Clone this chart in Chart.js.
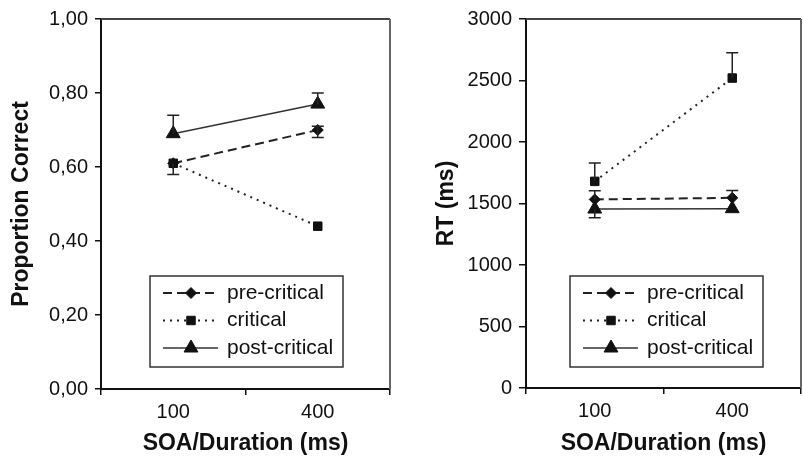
<!DOCTYPE html>
<html>
<head>
<meta charset="utf-8">
<script src="https://cdn.jsdelivr.net/npm/chart.js@4/dist/chart.umd.min.js"></script>
<style>
  html, body { margin: 0; padding: 0; background: #fff; overflow: hidden; }
  #wrap { position: relative; width: 803px; height: 459px; overflow: hidden; }
  #accChart { position: absolute; left: 0; top: 0; }
  #rtChart { position: absolute; left: 420px; top: 0; }
</style>
</head>
<body>
<div id="wrap">
  <canvas id="accChart" width="420" height="459"></canvas>
  <canvas id="rtChart" width="390" height="459"></canvas>
</div>
<script>
// data
const categories = ['100', '400'];
const seriesNames = ['pre-critical', 'critical', 'post-critical'];

// proportion correct
const accPre = [0.61, 0.70];
const accCrit = [0.61, 0.44];
const accPost = [0.69, 0.77];
const accPreErrUp = [0, 0.01];
const accPreErrDown = [0.03, 0.02];
const accCritErrUp = [0, 0];
const accCritErrDown = [0, 0];
const accPostErrUp = [0.05, 0.03];
const accPostErrDown = [0, 0];
const accTickLabels = ['0,00', '0,20', '0,40', '0,60', '0,80', '1,00'];

// reaction times
const rtPre = [1533, 1546];
const rtCrit = [1680, 2520];
const rtPost = [1455, 1458];
const rtPreErrUp = [70, 60];
const rtPreErrDown = [0, 0];
const rtCritErrUp = [150, 205];
const rtCritErrDown = [0, 0];
const rtPostErrUp = [0, 0];
const rtPostErrDown = [70, 0];
const rtTickLabels = ['0', '500', '1000', '1500', '2000', '2500', '3000'];

Chart.defaults.font.family = '"Liberation Sans", Arial, sans-serif';
Chart.defaults.color = '#111';

// error bars (caps + stems)
const errorBars = {
    id: 'errorBars',
    afterDatasetsDraw(chart) {
        const ctx = chart.ctx;
        const yScale = chart.scales.y;
        ctx.save();
        ctx.strokeStyle = '#222';
        ctx.lineWidth = 1.5;
        chart.data.datasets.forEach((ds, i) => {
            const meta = chart.getDatasetMeta(i);
            meta.data.forEach((pt, j) => {
                const v = ds.data[j];
                const ends = [];
                if (ds.errUp && ds.errUp[j] > 0) ends.push(v + ds.errUp[j]);
                if (ds.errDown && ds.errDown[j] > 0) ends.push(v - ds.errDown[j]);
                ends.forEach(e => {
                    const y0 = yScale.getPixelForValue(v);
                    const y1 = yScale.getPixelForValue(e);
                    ctx.beginPath();
                    ctx.moveTo(pt.x, y0);
                    ctx.lineTo(pt.x, y1);
                    ctx.moveTo(pt.x - 6, y1);
                    ctx.lineTo(pt.x + 6, y1);
                    ctx.stroke();
                });
            });
        });
        ctx.restore();
    }
};

// top/right frame of plot area
const areaFrame = {
    id: 'areaFrame',
    afterDraw(chart) {
        const {ctx, chartArea} = chart;
        ctx.save();
        ctx.lineWidth = 2;
        ctx.strokeStyle = '#444';
        ctx.beginPath();
        ctx.moveTo(chartArea.left, chartArea.top);
        ctx.lineTo(chartArea.right, chartArea.top);
        ctx.stroke();
        ctx.strokeStyle = '#666';
        ctx.beginPath();
        ctx.moveTo(chartArea.right, chartArea.top);
        ctx.lineTo(chartArea.right, chartArea.bottom);
        ctx.stroke();
        ctx.restore();
    }
};

// boxed legend with line samples
const boxLegend = {
    id: 'boxLegend',
    afterDraw(chart, args, opts) {
        const ctx = chart.ctx;
        ctx.save();
        ctx.fillStyle = '#fff';
        ctx.fillRect(opts.x, opts.y, opts.w, opts.h);
        ctx.strokeStyle = '#333';
        ctx.lineWidth = 1.5;
        ctx.strokeRect(opts.x, opts.y, opts.w, opts.h);
        chart.data.datasets.forEach((ds, i) => {
            const cy = opts.y + opts.rowTop + i * opts.rowGap;
            ctx.save();
            ctx.setLineDash(ds.borderDash || []);
            ctx.lineWidth = ds.borderWidth;
            ctx.strokeStyle = ds.borderColor;
            ctx.beginPath();
            ctx.moveTo(opts.x + 13, cy);
            ctx.lineTo(opts.x + 68, cy);
            ctx.stroke();
            ctx.restore();
            ctx.fillStyle = '#111';
            ctx.strokeStyle = '#111';
            ctx.lineWidth = 1;
            Chart.helpers.drawPoint(ctx, {
                pointStyle: ds.pointStyle,
                radius: ds.pointRadius,
                borderWidth: 1,
                rotation: 0
            }, opts.x + 41, cy);
            ctx.fillStyle = '#111';
            ctx.font = opts.font;
            ctx.textBaseline = 'middle';
            ctx.textAlign = 'left';
            ctx.fillText(ds.label, opts.x + 77, cy);
        });
        ctx.restore();
    }
};

function makeDatasets(pre, crit, post, errs) {
    return [{
        label: seriesNames[0],
        data: pre,
        errUp: errs[0], errDown: errs[1],
        borderColor: '#222',
        borderWidth: 2,
        borderDash: [9, 5],
        pointStyle: 'rectRot',
        pointRadius: 5.5,
        pointBackgroundColor: '#111',
        pointBorderColor: '#111',
        pointBorderWidth: 1
    }, {
        label: seriesNames[1],
        data: crit,
        errUp: errs[2], errDown: errs[3],
        borderColor: '#222',
        borderWidth: 2,
        borderDash: [2, 5],
        pointStyle: 'rect',
        pointRadius: 6,
        pointBackgroundColor: '#111',
        pointBorderColor: '#111',
        pointBorderWidth: 1
    }, {
        label: seriesNames[2],
        data: post,
        errUp: errs[4], errDown: errs[5],
        borderColor: '#333',
        borderWidth: 1.5,
        pointStyle: 'triangle',
        pointRadius: 8,
        pointBackgroundColor: '#111',
        pointBorderColor: '#111',
        pointBorderWidth: 1
    }];
}

function makeConfig(datasets, y, layout) {
    return {
        type: 'line',
        data: {labels: categories, datasets: datasets},
        plugins: [errorBars, areaFrame, boxLegend],
        options: {
            responsive: false,
            animation: false,
            events: [],
            layout: {padding: layout.padding},
            plugins: {
                legend: {display: false},
                tooltip: {enabled: false},
                boxLegend: {
                    x: 150, y: 276, w: 193, h: 91,
                    rowTop: 17, rowGap: 27.5,
                    font: '21px "Liberation Sans", Arial, sans-serif'
                }
            },
            scales: {
                x: {
                    type: 'category',
                    offset: true,
                    grid: {offset: true, drawOnChartArea: false, tickLength: 6, color: '#111', lineWidth: 1.5},
                    border: {color: '#111', width: 2},
                    ticks: {padding: 5, font: {size: 20}, color: '#111'},
                    title: {
                        display: true,
                        text: 'SOA/Duration (ms)',
                        font: {size: 23, weight: 'bold'},
                        padding: {top: 0, bottom: 2}
                    },
                    afterFit: function (scale) { scale.height = layout.xHeight; }
                },
                y: {
                    min: y.min,
                    max: y.max,
                    grid: {drawOnChartArea: false, tickLength: layout.tickLength, color: '#111', lineWidth: 1.5},
                    border: {color: '#111', width: 2},
                    ticks: {
                        stepSize: y.step,
                        padding: 7,
                        font: {size: 20},
                        color: '#111',
                        callback: function (value, index) { return y.labels[index]; }
                    },
                    title: {
                        display: true,
                        text: y.title,
                        font: {size: 23, weight: 'bold'},
                        padding: {top: layout.titlePad, bottom: 0}
                    },
                    afterFit: function (scale) { scale.width = layout.yWidth; }
                }
            }
        }
    };
}

new Chart(document.getElementById('accChart'), makeConfig(
    makeDatasets(accPre, accCrit, accPost,
        [accPreErrUp, accPreErrDown, accCritErrUp, accCritErrDown, accPostErrUp, accPostErrDown]),
    {min: 0, max: 1, step: 0.2, labels: accTickLabels, title: 'Proportion Correct'},
    {padding: {top: 15, right: 30, left: 0, bottom: 0}, xHeight: 70, yWidth: 101, tickLength: 6, titlePad: 8}
));

new Chart(document.getElementById('rtChart'), makeConfig(
    makeDatasets(rtPre, rtCrit, rtPost,
        [rtPreErrUp, rtPreErrDown, rtCritErrUp, rtCritErrDown, rtPostErrUp, rtPostErrDown]),
    {min: 0, max: 3000, step: 500, labels: rtTickLabels, title: 'RT (ms)'},
    {padding: {top: 19, right: 4, left: 0, bottom: 0}, xHeight: 71, yWidth: 106, tickLength: 7, titlePad: 13}
));
</script>
</body>
</html>
